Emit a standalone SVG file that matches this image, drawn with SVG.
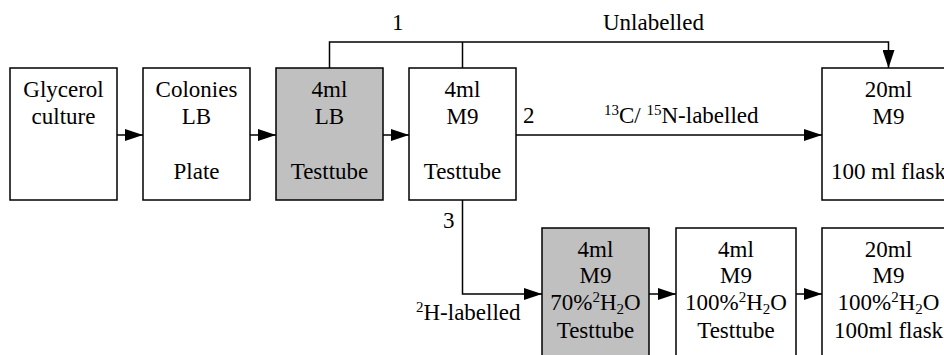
<svg xmlns="http://www.w3.org/2000/svg" width="944" height="355" viewBox="0 0 944 355">
<style>
text{font-family:'Liberation Serif','Tinos','Times New Roman','Noto Serif','DejaVu Serif',serif;font-size:23px;fill:#000}
.c{text-anchor:middle}
.s{font-size:15px}
.box{fill:#fff;stroke:#000;stroke-width:1.5}
.g{fill:#c0c0c0}
.ln{fill:none;stroke:#000;stroke-width:1.5}
</style>
<defs>
<marker id="ah" markerUnits="userSpaceOnUse" markerWidth="18" markerHeight="12" refX="18" refY="6" orient="auto">
<path d="M0,0 L18,6 L0,12 Z" fill="#000"/>
</marker>
</defs>
<rect width="944" height="355" fill="#fff"/>
<g id="connectors" font-family="Liberation Serif, serif">
<path class="ln" d="M117,135 H143" marker-end="url(#ah)"/>
<path class="ln" d="M250,135 H276" marker-end="url(#ah)"/>
<path class="ln" d="M383,135 H409" marker-end="url(#ah)"/>
<path class="ln" d="M329.5,68 V42 H888.5 V68" marker-end="url(#ah)"/>
<path class="ln" d="M462.5,68 V42"/>
<path class="ln" d="M516,135 H822" marker-end="url(#ah)"/>
<path class="ln" d="M462.5,200 V294 H542" marker-end="url(#ah)"/>
<path class="ln" d="M649,294 H676" marker-end="url(#ah)"/>
<path class="ln" d="M796,294 H822" marker-end="url(#ah)"/>
<text x="392" y="30">1</text>
<text x="603" y="30">Unlabelled</text>
<text x="523" y="123">2</text>
<text x="604" y="123"><tspan class="s" dy="-8">13</tspan><tspan dy="8">C/ </tspan><tspan class="s" dy="-8">15</tspan><tspan dy="8">N-labelled</tspan></text>
<text x="443" y="228">3</text>
<text x="416" y="320"><tspan class="s" dy="-8">2</tspan><tspan dy="8">H-labelled</tspan></text>
</g>
<g id="n1">
<rect class="box" x="10" y="68" width="107" height="132"/>
<text class="c" x="63.5" y="96.5">Glycerol</text>
<text class="c" x="63.5" y="124">culture</text>
</g>
<g id="n2">
<rect class="box" x="143" y="68" width="107" height="132"/>
<text class="c" x="196.5" y="96.5">Colonies</text>
<text class="c" x="196.5" y="124">LB</text>
<text class="c" x="196.5" y="179">Plate</text>
</g>
<g id="n3">
<rect class="box g" x="276" y="68" width="107" height="132"/>
<text class="c" x="329.5" y="96.5">4ml</text>
<text class="c" x="329.5" y="124">LB</text>
<text class="c" x="329.5" y="179">Testtube</text>
</g>
<g id="n4">
<rect class="box" x="409" y="68" width="107" height="132"/>
<text class="c" x="462.5" y="96.5">4ml</text>
<text class="c" x="462.5" y="124">M9</text>
<text class="c" x="462.5" y="179">Testtube</text>
</g>
<g id="n5">
<rect class="box" x="822" y="68" width="133" height="132"/>
<text class="c" x="888.5" y="96.5">20ml</text>
<text class="c" x="888.5" y="124">M9</text>
<text class="c" x="888.5" y="179">100 ml flask</text>
</g>
<g id="n6">
<rect class="box g" x="542" y="228" width="107" height="140"/>
<text class="c" x="595.5" y="256.5">4ml</text>
<text class="c" x="595.5" y="283">M9</text>
<text class="c" x="595.5" y="310">70%<tspan class="s" dy="-8">2</tspan><tspan dy="8">H</tspan><tspan class="s" dy="4">2</tspan><tspan dy="-4">O</tspan></text>
<text class="c" x="595.5" y="337.5">Testtube</text>
</g>
<g id="n7">
<rect class="box" x="676" y="228" width="120" height="140"/>
<text class="c" x="736" y="256.5">4ml</text>
<text class="c" x="736" y="283">M9</text>
<text class="c" x="736" y="310">100%<tspan class="s" dy="-8">2</tspan><tspan dy="8">H</tspan><tspan class="s" dy="4">2</tspan><tspan dy="-4">O</tspan></text>
<text class="c" x="736" y="337.5">Testtube</text>
</g>
<g id="n8">
<rect class="box" x="822" y="228" width="133" height="140"/>
<text class="c" x="888.5" y="256.5">20ml</text>
<text class="c" x="888.5" y="283">M9</text>
<text class="c" x="888.5" y="310">100%<tspan class="s" dy="-8">2</tspan><tspan dy="8">H</tspan><tspan class="s" dy="4">2</tspan><tspan dy="-4">O</tspan></text>
<text class="c" x="888.5" y="337.5">100ml flask</text>
</g>
</svg>
